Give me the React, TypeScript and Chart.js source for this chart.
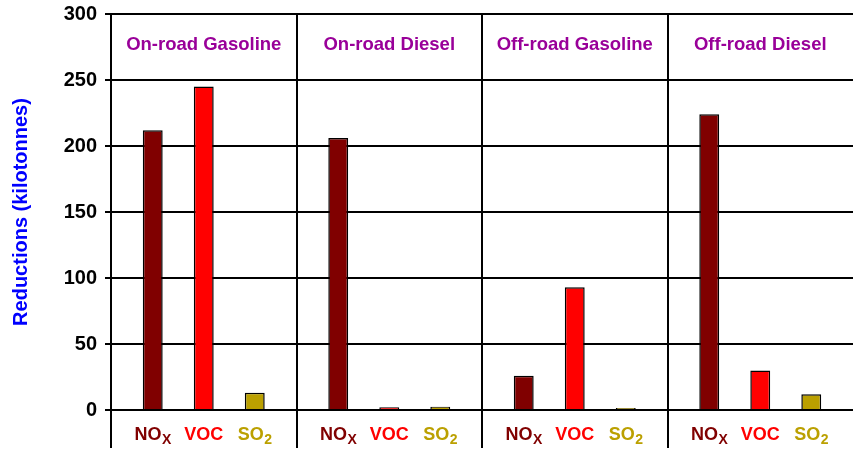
import { useEffect, useRef } from 'react';
import { Chart, registerables } from 'chart.js';

Chart.register(...registerables);

const groups = ['On-road Gasoline', 'On-road Diesel', 'Off-road Gasoline', 'Off-road Diesel'];
const pollutantMain = ['NO', 'VOC', 'SO'];
const pollutantSub = ['X', '', '2'];
const noxValues = [212, 206, 26, 224];
const vocValues = [245, 2, 93, 30];
const so2Values = [13, 2.5, 1.5, 12];
const yMin = 0;
const yMax = 300;
const yStep = 50;
const yTitle = 'Reductions (kilotonnes)';

const FONT = "'Liberation Sans', Arial, sans-serif";
const barColors = ['#800000', '#ff0000', '#bba000'];
const labelColors = ['#800000', '#ff0000', '#bba000'];

const labelPlugin = {
  id: 'groupLabels',
  afterDraw(chart: any) {
    const ctx = chart.ctx as CanvasRenderingContext2D;
    const area = chart.chartArea;
    const xScale = chart.scales.x;
    ctx.save();
    ctx.fillStyle = '#990099';
    ctx.font = `bold 18.5px ${FONT}`;
    ctx.textAlign = 'center';
    ctx.textBaseline = 'middle';
    groups.forEach((g, i) => {
      ctx.fillText(g, xScale.getPixelForValue(i), area.top + 31);
    });
    const y = area.bottom + 25;
    chart.data.datasets.forEach((_: any, d: number) => {
      const meta = chart.getDatasetMeta(d);
      meta.data.forEach((bar: any) => {
        const main = pollutantMain[d];
        const sub = pollutantSub[d];
        ctx.font = `bold 18px ${FONT}`;
        const wMain = ctx.measureText(main).width;
        ctx.font = `bold 14px ${FONT}`;
        const wSub = sub ? ctx.measureText(sub).width : 0;
        const start = bar.x - (wMain + wSub) / 2;
        ctx.fillStyle = labelColors[d];
        ctx.textAlign = 'left';
        ctx.textBaseline = 'middle';
        ctx.font = `bold 18px ${FONT}`;
        ctx.fillText(main, start, y);
        if (sub) {
          ctx.font = `bold 14px ${FONT}`;
          ctx.fillText(sub, start + wMain + 0.5, y + 5);
        }
      });
    });
    ctx.restore();
  },
};

export default function App() {
  const ref = useRef<HTMLCanvasElement | null>(null);
  useEffect(() => {
    document.body.style.margin = '0';
    const canvas = ref.current;
    if (!canvas) return;
    const series = [noxValues, vocValues, so2Values];
    const chart = new Chart(canvas, {
      type: 'bar',
      data: {
        labels: groups,
        datasets: series.map((vals, i) => ({
          label: pollutantMain[i] + pollutantSub[i],
          data: vals,
          backgroundColor: barColors[i],
          borderColor: '#000000',
          borderWidth: 1.5,
          categoryPercentage: 0.825,
          barPercentage: 0.39,
        })),
      },
      options: {
        animation: false,
        responsive: true,
        maintainAspectRatio: false,
        layout: { padding: { top: 14, right: 0, bottom: 2, left: 0 } },
        plugins: {
          legend: { display: false },
          tooltip: { enabled: false },
          title: { display: false },
        },
        scales: {
          x: {
            type: 'category',
            offset: true,
            ticks: { display: false },
            grid: {
              offset: true,
              color: (c: any) => (c.type === 'tick' ? '#000000' : 'rgba(0,0,0,0)'),
              lineWidth: 2,
              tickLength: 38,
              drawTicks: true,
            },
            border: { display: true, color: '#000000', width: 2 },
            afterFit: (s: any) => {
              s.height = 38;
              s.paddingLeft = 0;
              s.paddingRight = 0;
            },
          },
          y: {
            min: yMin,
            max: yMax,
            ticks: {
              stepSize: yStep,
              color: '#000000',
              font: { family: FONT, size: 20, weight: 'bold' },
              padding: 8,
            },
            grid: { color: '#000000', lineWidth: 2, tickLength: 6 },
            border: { display: true, color: '#000000', width: 2 },
            title: {
              display: true,
              text: yTitle,
              color: '#0000ff',
              font: { family: FONT, size: 20, weight: 'bold' },
              padding: { top: 9, bottom: 0 },
            },
            afterFit: (s: any) => {
              s.width = 111;
              s.paddingTop = 0;
              s.paddingBottom = 0;
            },
          },
        },
      },
      plugins: [labelPlugin],
    });
    return () => chart.destroy();
  }, []);
  return (
    <div style={{ position: 'relative', width: '853px', height: '450px' }}>
      <canvas ref={ref} />
    </div>
  );
}
